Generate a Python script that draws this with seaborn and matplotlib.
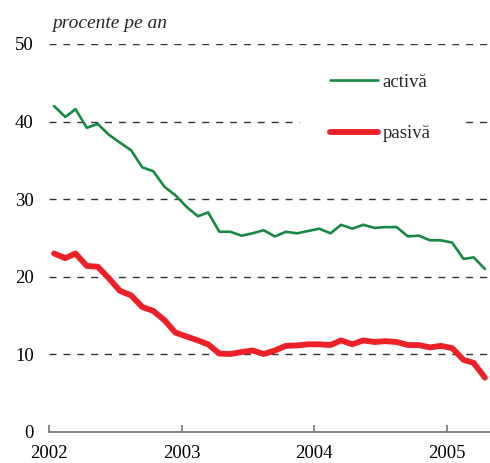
import pandas as pd
import numpy as np
import matplotlib
matplotlib.use('Agg')
import matplotlib.pyplot as plt
import matplotlib.dates as mdates
import seaborn as sns

# monthly values, Jan 2002 - Apr 2005 (percent per year)
months = pd.date_range('2002-01-01', periods=40, freq='MS') + pd.Timedelta(days=14)
activa = [42.0, 40.6, 41.6, 39.2, 39.7, 38.3, 37.3, 36.3, 34.1, 33.6,
          31.6, 30.5, 29.0, 27.8, 28.3, 25.8, 25.8, 25.3, 25.6, 26.0,
          25.2, 25.8, 25.6, 25.9, 26.2, 25.6, 26.7, 26.2, 26.7, 26.3,
          26.4, 26.4, 25.2, 25.3, 24.7, 24.7, 24.4, 22.3, 22.5, 21.0]
pasiva = [23.0, 22.4, 23.0, 21.4, 21.3, 19.8, 18.2, 17.6, 16.1, 15.6,
          14.4, 12.8, 12.3, 11.8, 11.3, 10.1, 10.05, 10.3, 10.5, 10.05,
          10.5, 11.1, 11.15, 11.3, 11.3, 11.2, 11.8, 11.3, 11.8, 11.6,
          11.7, 11.6, 11.2, 11.2, 10.9, 11.1, 10.8, 9.3, 8.9, 7.0]
series_names = ['activă', 'pasivă']
yticks = [0, 10, 20, 30, 40, 50]

sns.set_theme(style='white')
plt.rcParams['font.family'] = ['Liberation Serif', 'DejaVu Serif']

fig = plt.figure(figsize=(4.9, 4.63), dpi=100)
ax = fig.add_axes([0.1, 0.067, 0.9, 0.838])

df = pd.DataFrame({'luna': months, 'activa': activa, 'pasiva': pasiva})
sns.lineplot(data=df, x='luna', y='activa', ax=ax, color='#168a43', lw=1.9,
             label=series_names[0], zorder=3, solid_joinstyle='round')
sns.lineplot(data=df, x='luna', y='pasiva', ax=ax, color='#ee2027', lw=4.2,
             label=series_names[1], zorder=3, solid_joinstyle='round',
             solid_capstyle='round')

# dashed horizontal gridlines
for y in yticks[1:]:
    ax.axhline(y, color='#333333', lw=1.0, dashes=(5, 5),
               zorder=6 if y == yticks[-1] else 1)

ax.set_ylim(0, 50)
ax.set_yticks(yticks)
ax.set_xlim(pd.Timestamp('2002-01-01'), pd.Timestamp('2005-04-29'))
ax.xaxis.set_major_locator(mdates.YearLocator())
ax.xaxis.set_major_formatter(mdates.DateFormatter('%Y'))
ax.set_xlabel('')
ax.set_ylabel('')

for s in ['top', 'right', 'left']:
    ax.spines[s].set_visible(False)
ax.spines['bottom'].set_color('#777777')
ax.spines['bottom'].set_linewidth(1.3)
ax.tick_params(axis='x', direction='in', length=5, width=1.2, color='#777777',
               bottom=True, labelsize=13.5, pad=9.5, labelcolor='black')
ax.tick_params(axis='y', length=0, labelsize=13.5, pad=11, labelcolor='black')

leg = ax.legend(loc='center left', bbox_to_anchor=(0.57, 0.835),
                frameon=True, fancybox=False, framealpha=1, edgecolor='white',
                facecolor='white', fontsize=13.5, handlelength=2.55,
                handletextpad=0.25, labelspacing=1.85, borderpad=1.6,
                borderaxespad=0)
leg.set_zorder(5)

fig.text(52 / 490, 1 - 24 / 463, 'procente pe an', fontsize=14, style='italic',
         va='center', ha='left')

fig.savefig('out.png', dpi=100)
